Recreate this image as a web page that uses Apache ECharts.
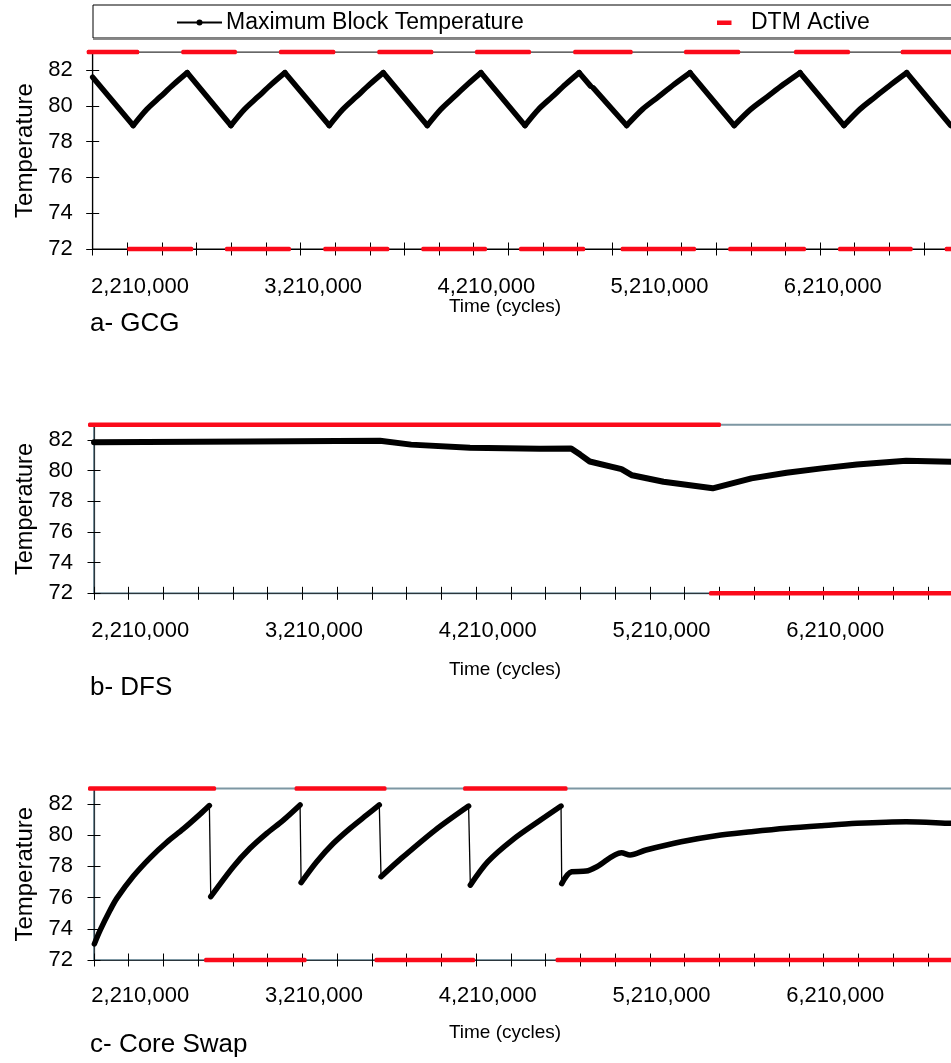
<!DOCTYPE html>
<html><head><meta charset="utf-8">
<script src="https://cdn.jsdelivr.net/npm/echarts@6/dist/echarts.min.js"></script>
<style>html,body{margin:0;padding:0;background:#fff;overflow:hidden;width:951px;height:1063px}#chart{width:1000px;height:1063px}</style>
</head><body><div id="chart"></div>
<script>
// ---------------- data ----------------
const xLabelValues = [2210000, 3210000, 4210000, 5210000, 6210000];
const yTickValues = [72, 74, 76, 78, 80, 82];
const xTickStep = 200000;
const xEnd = 7010000;
const xStartA = 1937000;
const xStartBC = 1944000;

// a- GCG : maximum block temperature (segments)
const tempA = [
  [[1937000,81.6],[2171000,78.9],[2249000,79.8],[2327000,80.5],[2405000,81.2],[2483000,81.85],
   [2735000,78.9],[2813000,79.8],[2891000,80.5],[2969000,81.2],[3047000,81.85],
   [3303000,78.9],[3381000,79.8],[3459000,80.5],[3537000,81.2],[3615000,81.85],
   [3869000,78.9],[3947000,79.8],[4024000,80.5],[4102000,81.2],[4179000,81.85],
   [4433000,78.9],[4511000,79.8],[4590000,80.5],[4668000,81.2],[4746000,81.85],
   [4812000,81.1]],
  [[4827000,81.0],[5020000,78.9],[5111000,79.8],[5203000,80.5],[5294000,81.2],[5386000,81.85],
   [5641000,78.9],[5736000,79.8],[5831000,80.5],[5926000,81.2],[6021000,81.85],
   [6275000,78.9],[6366000,79.8],[6456000,80.5],[6547000,81.2],[6637000,81.85],
   [6891000,78.9]]
];
// b- DFS
const tempB = [
  [[1944000,81.85],[2842000,81.9],[3590000,81.95],[3769000,81.7],[4108000,81.5],
   [4511000,81.43],[4690000,81.45],[4742000,81.05],[4797000,80.6],[4980000,80.1],
   [5041000,79.7],[5222000,79.28],[5505000,78.85],[5728000,79.5],[5930000,79.87],
   [6132000,80.15],[6335000,80.41],[6618000,80.65],[6877000,80.58],[7010000,80.55]]
];
// c- Core Swap
const tempC = [
  [[1946000,73.03],[1979000,73.9],[2037000,75.2],[2075000,75.95],[2171000,77.38],
   [2267000,78.55],[2363000,79.55],[2458000,80.4],[2555000,81.35],[2608000,81.9]],
  [[2616000,76.06],[2746000,77.98],[2842000,79.16],[2938000,80.12],[3034000,80.97],[3130000,81.94]],
  [[3136000,76.96],[3226000,78.3],[3322000,79.48],[3418000,80.44],[3514000,81.3],[3586000,81.94]],
  [[3596000,77.34],[3706000,78.45],[3908000,80.33],[4100000,81.87]],
  [[4110000,76.8],[4211000,78.3],[4353000,79.7],[4514000,80.97],[4632000,81.87]],
  [[4636000,76.9],[4693000,77.66],[4777000,77.7],[4838000,77.98],[4980000,78.88],
   [5029000,78.73],[5121000,79.05],[5323000,79.58],[5524000,79.97],[5728000,80.22],
   [5930000,80.44],[6132000,80.61],[6335000,80.76],[6618000,80.86],[6877000,80.76],[7010000,80.72]]
];
// DTM active intervals [start, end]
const dtmA = [[1937000,2171000],[2483000,2735000],[3047000,3303000],[3615000,3869000],
  [4179000,4433000],[4746000,5020000],[5386000,5641000],[6021000,6275000],[6637000,6891000]];
const dtmB = [[1944000,5518000]];
const dtmC = [[1944000,2612000],[3133000,3593000],[4103000,4635000]];
const dtmOnLevel = 83, dtmOffLevel = 72;

// ---------------- helpers ----------------
const FONT = '"Liberation Sans", Arial, Helvetica, sans-serif';
const RED = '#fb0a1a';
function ticksFrom(start){ const t=[]; for(let v=start; v<=xEnd; v+=xTickStep) t.push(v); return t; }
function complement(iv, start, end){
  const out=[]; let cur=start;
  iv.forEach(d=>{ if(d[0]>cur) out.push([cur,d[0]]); cur=Math.max(cur,d[1]); });
  if(cur<end) out.push([cur,end]);
  return out;
}
// split a segment into monotone runs (sharing turning points)
function monotoneRuns(seg){
  const runs=[]; let cur=[seg[0]], dir=0;
  for(let k=1;k<seg.length;k++){
    const d = Math.sign(seg[k][1]-seg[k-1][1]);
    if(dir!==0 && d!==0 && d!==dir){ runs.push({dir, pts:cur}); cur=[seg[k-1]]; }
    if(d!==0) dir=d;
    cur.push(seg[k]);
  }
  runs.push({dir, pts:cur});
  return runs;
}
const fmt = v => Math.round(v).toString().replace(/\B(?=(\d{3})+(?!\d))/g, ',');

const panels = [
  {left:92.7, top:52.1, width:878.6, height:196.9, min:xStartA, temp:tempA, dtm:dtmA, smooth:0.3, split:true,
   border:'#000', borderW:1, axisColor:'#000', labelMargin:26.5, yMargin:20, lw:5.5, nameSize:24},
  {left:94, top:424.7, width:880.2, height:168.6, min:xStartBC, temp:tempB, dtm:dtmB, smooth:0, split:false,
   border:'#7d97a3', borderW:2, axisColor:'#2b363c', labelMargin:26.5, yMargin:21, lw:6, nameSize:23.5},
  {left:94, top:788.4, width:880.2, height:171.6, min:xStartBC, temp:tempC, dtm:dtmC, smooth:0.3, split:false,
   border:'#7d97a3', borderW:2, axisColor:'#2b363c', labelMargin:25, yMargin:21, lw:5.5, nameSize:24}
];

const grid=[], xAxis=[], yAxis=[], series=[];
panels.forEach((p,i)=>{
  grid.push({left:p.left, top:p.top, width:p.width, height:p.height, show:true,
    borderColor:p.border, borderWidth:p.borderW, backgroundColor:'transparent', containLabel:false});
  const ticks = ticksFrom(p.min);
  const baseX = {type:'value', gridIndex:i, min:p.min, max:xEnd, position:'bottom', splitLine:{show:false}};
  xAxis.push(Object.assign({}, baseX, {
    axisLine:{show:true, onZero:false, lineStyle:{color:p.axisColor, width:1.2}},
    axisTick:{show:true, inside:true, length:6.5, customValues:ticks, lineStyle:{color:'#000', width:1}},
    axisLabel:{show:true, customValues:xLabelValues, formatter:fmt, margin:p.labelMargin,
      fontSize:22, fontFamily:FONT, color:'#000'}
  }));
  xAxis.push(Object.assign({}, baseX, {
    axisLine:{show:false, onZero:false},
    axisTick:{show:true, inside:false, length:6.5, customValues:ticks, lineStyle:{color:'#000', width:1}},
    axisLabel:{show:false}
  }));
  const baseY = {type:'value', gridIndex:i, min:72, max:83, position:'left', splitLine:{show:false}};
  yAxis.push(Object.assign({}, baseY, {
    axisLine:{show:true, onZero:false, lineStyle:{color:p.axisColor, width:1.2}},
    axisTick:{show:true, inside:false, length:6.5, customValues:yTickValues, lineStyle:{color:'#000', width:1}},
    axisLabel:{show:true, customValues:yTickValues, margin:p.yMargin, fontSize:22, fontFamily:FONT, color:'#000'},
    name:'Temperature', nameLocation:'middle', nameGap:55,
    nameTextStyle:{fontSize:p.nameSize, fontFamily:FONT, color:'#000'}
  }));
  yAxis.push(Object.assign({}, baseY, {
    axisLine:{show:false, onZero:false},
    axisTick:{show:true, inside:true, length:6.5, customValues:yTickValues, lineStyle:{color:'#000', width:1}},
    axisLabel:{show:false}
  }));
  const xi = i*2, yi = i*2;
  // DTM active (top) and inactive (bottom) dash markers
  const mk = (iv, level) => ({
    type:'custom', xAxisIndex:xi, yAxisIndex:yi, silent:true, z:3, clip:false,
    data: iv.map(d=>[d[0], d[1], level]),
    encode:{x:[0,1], y:2},
    renderItem:(params, api)=>{
      const a = api.coord([api.value(0), api.value(2)]);
      const b = api.coord([api.value(1), api.value(2)]);
      return {type:'rect', shape:{x:a[0]-6, y:a[1]-2.25, width:b[0]-a[0]+12, height:4.5, r:1.5},
        style:{fill:RED}};
    }
  });
  series.push(mk(p.dtm, dtmOnLevel));
  series.push(mk(complement(p.dtm, p.min, xEnd), dtmOffLevel));
  // thin connecting line over all samples (straight, as in the drops)
  series.push({type:'line', xAxisIndex:xi, yAxisIndex:yi, data:[].concat(...p.temp), showSymbol:false,
    lineStyle:{color:'#000', width:1.3}, silent:true, z:4, clip:false, animation:false});
  // thick marker trace
  const pieces = [];
  p.temp.forEach(seg=>{
    if(p.split){ monotoneRuns(seg).forEach(r=>pieces.push({pts:r.pts, smooth: r.dir>0 ? p.smooth : 0})); }
    else pieces.push({pts:seg, smooth:p.smooth});
  });
  pieces.forEach(pc=>{
    series.push({type:'line', xAxisIndex:xi, yAxisIndex:yi, data:pc.pts, showSymbol:false,
      smooth:pc.smooth,
      lineStyle:{color:'#000', width:p.lw, cap:'round', join:'round'}, silent:true, z:5, clip:false, animation:false});
  });
});

const txt = (t, x, y, size, align) => ({type:'text', x:x, y:y, silent:true,
  style:{text:t, x:0, y:0, align:align||'left', verticalAlign:'middle', font:size+'px '+FONT, fill:'#000'}});

const graphic = [
  {type:'rect', silent:true, shape:{x:93, y:5, width:950, height:33}, style:{fill:'#fff', stroke:'#000', lineWidth:1}},
  {type:'line', silent:true, shape:{x1:93, y1:39.3, x2:1000, y2:39.3}, style:{stroke:'#8a8a8a', lineWidth:1.6}},
  {type:'line', silent:true, shape:{x1:177, y1:22.5, x2:222, y2:22.5}, style:{stroke:'#000', lineWidth:2}},
  {type:'circle', silent:true, shape:{cx:199.5, cy:22.5, r:3}, style:{fill:'#000'}},
  txt('Maximum Block Temperature', 226, 22.5, 23),
  {type:'rect', silent:true, shape:{x:717, y:20.5, width:14.5, height:4.5}, style:{fill:RED}},
  txt('DTM Active', 751, 22.5, 23),
  txt('Time (cycles)', 505, 307, 19, 'center'),
  txt('Time (cycles)', 505, 670, 19, 'center'),
  txt('Time (cycles)', 505, 1033, 19, 'center'),
  txt('a- GCG', 90, 324, 26),
  txt('b- DFS', 90, 688, 26),
  txt('c- Core Swap', 90, 1045, 26)
];

const chart = echarts.init(document.getElementById('chart'), null, {renderer:'canvas'});
chart.setOption({animation:false, backgroundColor:'#fff', grid, xAxis, yAxis, series, graphic});
</script></body></html>
